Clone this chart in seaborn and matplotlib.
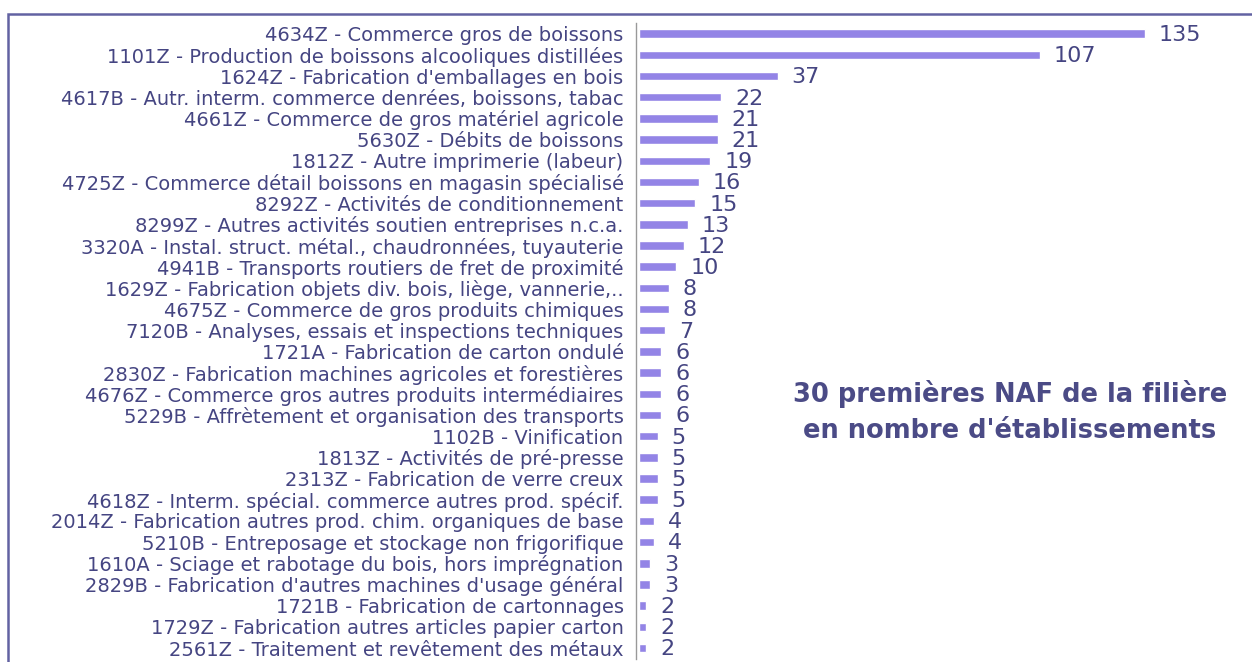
import matplotlib
matplotlib.use("Agg")
import matplotlib.pyplot as plt
import matplotlib.patches as mpatches
import pandas as pd
import seaborn as sns

# Données : 30 premières NAF de la filière
codes = ["4634Z", "1101Z", "1624Z", "4617B", "4661Z", "5630Z", "1812Z", "4725Z",
         "8292Z", "8299Z", "3320A", "4941B", "1629Z", "4675Z", "7120B", "1721A",
         "2830Z", "4676Z", "5229B", "1102B", "1813Z", "2313Z", "4618Z", "2014Z",
         "5210B", "1610A", "2829B", "1721B", "1729Z", "2561Z"]
libelles = ["Commerce gros de boissons",
            "Production de boissons alcooliques distillées",
            "Fabrication d'emballages en bois",
            "Autr. interm. commerce denrées, boissons, tabac",
            "Commerce de gros matériel agricole",
            "Débits de boissons",
            "Autre imprimerie (labeur)",
            "Commerce détail boissons en magasin spécialisé",
            "Activités de conditionnement",
            "Autres activités soutien entreprises n.c.a.",
            "Instal. struct. métal., chaudronnées, tuyauterie",
            "Transports routiers de fret de proximité",
            "Fabrication objets div. bois, liège, vannerie,..",
            "Commerce de gros produits chimiques",
            "Analyses, essais et inspections techniques",
            "Fabrication de carton ondulé",
            "Fabrication machines agricoles et forestières",
            "Commerce gros autres produits intermédiaires",
            "Affrètement et organisation des transports",
            "Vinification",
            "Activités de pré-presse",
            "Fabrication de verre creux",
            "Interm. spécial. commerce autres prod. spécif.",
            "Fabrication autres prod. chim. organiques de base",
            "Entreposage et stockage non frigorifique",
            "Sciage et rabotage du bois, hors imprégnation",
            "Fabrication d'autres machines d'usage général",
            "Fabrication de cartonnages",
            "Fabrication autres articles papier carton",
            "Traitement et revêtement des métaux"]
nb_etab = [135, 107, 37, 22, 21, 21, 19, 16, 15, 13, 12, 10, 8, 8, 7, 6,
           6, 6, 6, 5, 5, 5, 5, 4, 4, 3, 3, 2, 2, 2]

titre = "30 premières NAF de la filière\nen nombre d'établissements"

couleur_barre = "#9384e6"
couleur_texte = "#454582"

df = pd.DataFrame({"naf": [f"{c} - {l}" for c, l in zip(codes, libelles)],
                   "n": nb_etab})

sns.set_style("white")
plt.rcParams["font.family"] = ["DejaVu Sans"]

fig = plt.figure(figsize=(12.52, 6.62), dpi=100)
ax = fig.add_axes([636 / 1252, 1 - 658.6 / 662, (1252 - 636) / 1252, (658.6 - 23.1) / 662])

sns.barplot(data=df, y="naf", x="n", orient="h", color=couleur_barre,
            saturation=1, width=0.4, ax=ax)

ax.set_xlim(-0.8, 163.5)
ax.set_ylim(29.5, -0.5)
ax.set_xlabel("")
ax.set_ylabel("")
ax.set_xticks([])

# étiquettes de valeur
for i, v in enumerate(nb_etab):
    ax.annotate(str(v), xy=(v, i), xytext=(10, -1), textcoords="offset points",
                ha="left", va="center", fontsize=16, color=couleur_texte)

# graduations entre les catégories
ax.set_yticks([i - 0.5 for i in range(len(nb_etab) + 1)], minor=True)
ax.tick_params(axis="y", which="minor", length=4, width=1, color="#888888", direction="out")
ax.tick_params(axis="y", which="major", length=0, pad=9, labelsize=14, labelcolor=couleur_texte)

for s in ["top", "right", "bottom"]:
    ax.spines[s].set_visible(False)
ax.spines["left"].set_color("#999999")
ax.spines["left"].set_linewidth(1)

fig.text(1010 / 1252, 1 - 412 / 662, titre, ha="center", va="center",
         fontsize=18.5, fontweight="bold", color="#4b4b86", linespacing=1.45)

# cadre autour du graphique
cadre = mpatches.Rectangle((8 / 1252, -0.05), 1.1, 1 - 14 / 662 + 0.05,
                           transform=fig.transFigure, fill=False,
                           edgecolor="#6262a2", linewidth=1.8, clip_on=False)
fig.patches.append(cadre)

fig.savefig("out.png", dpi=100)
